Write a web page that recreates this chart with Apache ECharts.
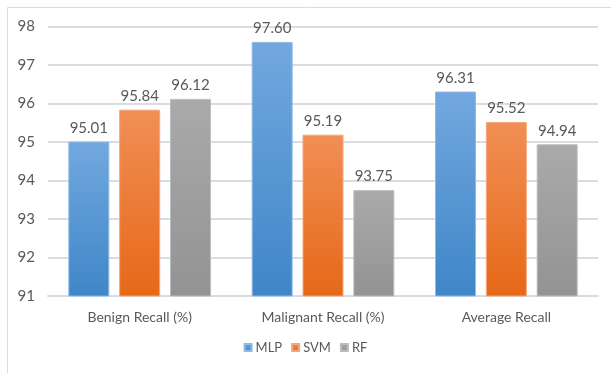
<!DOCTYPE html>
<html>
<head>
<meta charset="utf-8">
<script src="https://cdn.jsdelivr.net/npm/echarts@6/dist/echarts.min.js"></script>
<style>
  html, body { margin: 0; padding: 0; background: #ffffff; }
  #chart { width: 611px; height: 373px; }
</style>
</head>
<body>
<div id="chart"></div>
<script>
// Recall per classifier and metric
const categories = ['Benign Recall (%)', 'Malignant Recall (%)', 'Average Recall'];
const mlpValues = [95.01, 97.60, 96.31];
const svmValues = [95.84, 95.19, 95.52];
const rfValues = [96.12, 93.75, 94.94];
const yTicks = { min: 91, max: 98, step: 1 };

const textColor = '#595959';
const fontFamily = 'Lato, "Open Sans", sans-serif';

function grad(top, bottom) {
  return new echarts.graphic.LinearGradient(0, 0, 0, 1, [
    { offset: 0, color: top },
    { offset: 1, color: bottom }
  ]);
}

function barSeries(name, values, top, bottom, edge) {
  return {
    name: name,
    type: 'bar',
    data: values,
    barWidth: 41,
    barGap: '24%',
    itemStyle: { color: grad(top, bottom), borderColor: edge, borderWidth: 1 },
    label: {
      show: true,
      position: 'top',
      distance: 6,
      color: textColor,
      fontSize: 15,
      fontFamily: fontFamily,
      formatter: p => p.value.toFixed(2)
    }
  };
}

const chart = echarts.init(document.getElementById('chart'), null, { renderer: 'canvas' });
chart.setOption({
  animation: false,
  backgroundColor: '#ffffff',
  graphic: [{
    type: 'rect',
    shape: { x: 7.5, y: 7.5, width: 620, height: 380 },
    style: { fill: 'none', stroke: '#d9dde3', lineWidth: 1 },
    silent: true,
    z: -1
  }],
  grid: { left: 48, right: 13, top: 26.5, bottom: 77, containLabel: false },
  legend: {
    data: ['MLP', 'SVM', 'RF'],
    bottom: 14,
    left: 'center',
    itemWidth: 7,
    itemHeight: 7,
    itemGap: 9,
    icon: 'rect',
    textStyle: { color: textColor, fontSize: 13, fontFamily: fontFamily, padding: [0, 0, 0, -1] }
  },
  xAxis: {
    type: 'category',
    data: categories,
    axisLine: { lineStyle: { color: '#d9dde3', width: 2 } },
    axisTick: { show: false },
    axisLabel: { color: textColor, fontSize: 14, fontFamily: fontFamily, margin: 14 }
  },
  yAxis: {
    type: 'value',
    min: yTicks.min,
    max: yTicks.max,
    interval: yTicks.step,
    axisLine: { show: false },
    axisTick: { show: false },
    splitLine: { lineStyle: { color: '#d9dde3', width: 2 } },
    axisLabel: { color: textColor, fontSize: 15, fontFamily: fontFamily, margin: 13 }
  },
  series: [
    barSeries('MLP', mlpValues, '#72a8de', '#3f86c8', '#8fbbe6'),
    barSeries('SVM', svmValues, '#f18f55', '#e66818', '#f4a77a'),
    barSeries('RF', rfValues, '#aaaaaa', '#939393', '#bdbdbd')
  ],
  color: ['#5b9bd5', '#ed7d31', '#a5a5a5']
});
</script>
</body>
</html>
